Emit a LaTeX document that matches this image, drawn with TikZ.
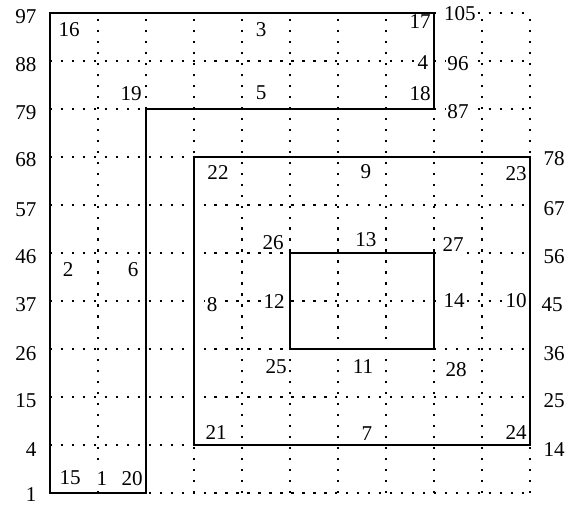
\documentclass[tikz,border=0pt]{standalone}
\usepackage{fontspec}
\setmainfont{Liberation Serif}
\usepackage{tikz}
\usetikzlibrary{positioning}

\begin{document}
\begin{tikzpicture}[x=1cm, y=1cm, font=\fontsize{12.5}{14}\selectfont,
    num/.style={fill=white, inner sep=1pt},
    levl/.style={anchor=east, inner sep=1pt},
    levr/.style={anchor=west, inner sep=1pt},
    dotgrid/.style={line width=1.4pt, dash pattern=on 1.4pt off 5.1pt},
    wall/.style={line width=1.2pt, line join=miter}]
    \useasboundingbox (-1.042,-0.229) rectangle (10.979,10.271);
    \draw[dotgrid] (0,0) grid (10,10);
    \node[num] (n16) at (0.40,9.65) {16};
    \node[num] (n3) at (4.40,9.65) {3};
    \node[num] (n17) at (7.71,9.83) {17};
    \node[num] (n4) at (7.77,8.96) {4};
    \node[num] (n18) at (7.71,8.33) {18};
    \node[num] (n19) at (1.69,8.33) {19};
    \node[num] (n5) at (4.40,8.33) {5};
    \node[num] (n105) at (8.54,9.98) {105};
    \node[num] (n96) at (8.50,8.94) {96};
    \node[num] (n87) at (8.50,7.94) {87};
    \node[num] (n22) at (3.50,6.67) {22};
    \node[num] (n9) at (6.58,6.69) {9};
    \node[num] (n23) at (9.71,6.66) {23};
    \node[num] (n26) at (4.65,5.21) {26};
    \node[num] (n13) at (6.58,5.27) {13};
    \node[num] (n27) at (8.40,5.17) {27};
    \node[num] (n2) at (0.38,4.65) {2};
    \node[num] (n6) at (1.73,4.65) {6};
    \node[num] (n8) at (3.38,3.92) {8};
    \node[num] (n12) at (4.67,3.98) {12};
    \node[num] (n14) at (8.42,4.00) {14};
    \node[num] (n10) at (9.71,4.00) {10};
    \node[num] (n25) at (4.71,2.63) {25};
    \node[num] (n11) at (6.52,2.63) {11};
    \node[num] (n28) at (8.46,2.58) {28};
    \node[num] (n21) at (3.46,1.27) {21};
    \node[num] (n7) at (6.60,1.23) {7};
    \node[num] (n24) at (9.71,1.27) {24};
    \node[num] (n15) at (0.42,0.31) {15};
    \node[num] (n1) at (1.08,0.31) {1};
    \node[num] (n20) at (1.71,0.31) {20};
    \draw[wall] (0,0) -- (0,10) -- (8,10) -- (8,8) -- (2,8) -- (2,0) -- cycle;
    \draw[wall] (3,1) rectangle (10,7);
    \draw[wall] (5,3) rectangle (8,5);
    \node[levl] (a97) at (-0.24,9.92) {97};
    \node[levl] (a88) at (-0.24,8.92) {88};
    \node[levl] (a79) at (-0.24,7.92) {79};
    \node[levl] (a68) at (-0.24,6.94) {68};
    \node[levl] (a57) at (-0.24,5.90) {57};
    \node[levl] (a46) at (-0.24,4.92) {46};
    \node[levl] (a37) at (-0.24,3.92) {37};
    \node[levl] (a26) at (-0.24,2.90) {26};
    \node[levl] (a15) at (-0.24,1.92) {15};
    \node[levl] (a4) at (-0.24,0.90) {4};
    \node[levl] (a1) at (-0.24,-0.03) {1};
    \node[levr] (b78) at (10.24,6.96) {78};
    \node[levr] (b67) at (10.24,5.92) {67};
    \node[levr] (b56) at (10.24,4.92) {56};
    \node[levr] (b45) at (10.20,3.92) {45};
    \node[levr] (b36) at (10.24,2.90) {36};
    \node[levr] (b25) at (10.24,1.92) {25};
    \node[levr] (b14) at (10.24,0.90) {14};
  \end{tikzpicture}
\end{document}
